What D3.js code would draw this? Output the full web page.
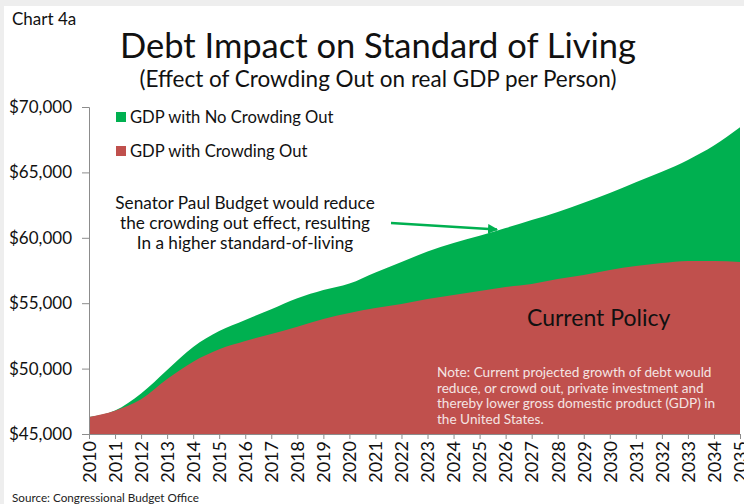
<!DOCTYPE html>
<html>
<head>
<meta charset="utf-8">
<script src="https://cdn.jsdelivr.net/npm/d3@7"></script>
<style>
  html, body { margin: 0; padding: 0; background: #eeeeee; }
  svg { display: block; font-family: Lato, "Open Sans", sans-serif; }
</style>
</head>
<body>
<svg id="chart" width="744" height="504"></svg>
<script>
// data (real GDP per person, $)
var years = d3.range(2010, 2036);
var noCrowding = [46300, 46800, 48100, 49900, 51650, 52870, 53720, 54530, 55370, 56000,
                  56500, 57350, 58150, 58950, 59600, 60150, 60750, 61360, 61980, 62680,
                  63430, 64250, 65050, 65950, 67050, 68450];
var withCrowding = [46300, 46780, 47650, 49200, 50530, 51480, 52110, 52650, 53200, 53790,
                    54250, 54630, 54940, 55320, 55630, 55930, 56240, 56470, 56850, 57160,
                    57540, 57840, 58070, 58230, 58230, 58150];
var yTicks = [45000, 50000, 55000, 60000, 65000, 70000];
var seriesNames = ['GDP with No Crowding Out', 'GDP with Crowding Out'];
var colors = ['#00b050', '#c0504d'];
var calloutLines = ['Senator Paul Budget would reduce', 'the crowding out effect, resulting', 'In a higher standard-of-living'];
var noteLines = ['Note:  Current projected growth of debt would', 'reduce, or crowd out, private investment and',
                 'thereby lower gross domestic product (GDP) in', 'the United States.'];

var svg = d3.select('#chart');

// white panel
svg.append('rect').attr('x', 4).attr('y', 6).attr('width', 740).attr('height', 498).attr('fill', '#fff');

var x = d3.scaleLinear().domain([2010, 2035]).range([89, 740]);
var y = d3.scaleLinear().domain([45000, 70000]).range([434, 107]);

var rows = years.map(function (yr, i) {
    return {year: yr, hi: noCrowding[i], lo: withCrowding[i]};
});

var areaHi = d3.area().curve(d3.curveMonotoneX)
    .x(function (d) { return x(d.year); })
    .y0(y(45000))
    .y1(function (d) { return y(d.hi); });
var areaLo = d3.area().curve(d3.curveMonotoneX)
    .x(function (d) { return x(d.year); })
    .y0(y(45000))
    .y1(function (d) { return y(d.lo); });

svg.append('path').datum(rows).attr('d', areaHi).attr('fill', colors[0]);
svg.append('path').datum(rows).attr('d', areaLo).attr('fill', colors[1]);

// axes
var yAxis = d3.axisLeft(y).tickValues(yTicks).tickSize(7).tickPadding(10)
    .tickFormat(function (d) { return '$' + d3.format(',')(d); });
var gy = svg.append('g').attr('transform', 'translate(89,0)').call(yAxis);
gy.select('.domain').attr('stroke', '#8c8c8c');
gy.selectAll('.tick line').attr('stroke', '#8c8c8c');
gy.selectAll('.tick text').attr('font-size', 17).attr('fill', '#111').attr('font-family', 'Lato, sans-serif');

var xAxis = d3.axisBottom(x).tickValues(years).tickSize(5).tickSizeOuter(0).tickFormat(d3.format('d'));
var gx = svg.append('g').attr('transform', 'translate(0,434)').call(xAxis);
gx.select('.domain').attr('stroke', '#8c8c8c');
gx.selectAll('.tick line').attr('stroke', '#8c8c8c');
gx.selectAll('.tick text')
    .attr('font-size', 18).attr('fill', '#111').attr('font-family', 'Lato, sans-serif')
    .attr('text-anchor', 'end').attr('transform', 'rotate(-90)')
    .attr('x', -7).attr('y', 0).attr('dy', '0.35em');

// titles
svg.append('text').attr('x', 12).attr('y', 25).attr('font-size', 17).attr('fill', '#111').text('Chart 4a');
svg.append('text').attr('x', 378).attr('y', 58).attr('text-anchor', 'middle')
    .attr('font-size', 34.5).attr('fill', '#111').text('Debt Impact on Standard of Living');
svg.append('text').attr('x', 378).attr('y', 87).attr('text-anchor', 'middle')
    .attr('font-size', 22.5).attr('fill', '#111').text('(Effect of Crowding Out on real GDP per Person)');

// legend
var leg = svg.append('g').selectAll('g').data(seriesNames).enter().append('g')
    .attr('transform', function (d, i) { return 'translate(116,' + (112 + i * 34) + ')'; });
leg.append('rect').attr('width', 10).attr('height', 10).attr('fill', function (d, i) { return colors[i]; });
leg.append('text').attr('x', 14).attr('y', 10.5).attr('font-size', 16.6).attr('fill', '#111').text(function (d) { return d; });

// callout
svg.append('g').selectAll('text').data(calloutLines).enter().append('text')
    .attr('x', 245).attr('y', function (d, i) { return 209 + i * 20; })
    .attr('text-anchor', 'middle').attr('font-size', 17.2).attr('fill', '#111')
    .text(function (d) { return d; });

svg.append('defs').append('marker').attr('id', 'arr').attr('viewBox', '0 0 10 10')
    .attr('refX', 9).attr('refY', 5).attr('markerWidth', 4).attr('markerHeight', 4).attr('orient', 'auto')
    .append('path').attr('d', 'M0,0L10,5L0,10z').attr('fill', colors[0]);
svg.append('line').attr('x1', 391).attr('y1', 223).attr('x2', 497).attr('y2', 229.5)
    .attr('stroke', colors[0]).attr('stroke-width', 2.5).attr('marker-end', 'url(#arr)');

// labels inside the red area
svg.append('text').attr('x', 527).attr('y', 326).attr('font-size', 23).attr('fill', '#111').text('Current Policy');
svg.append('g').selectAll('text').data(noteLines).enter().append('text')
    .attr('x', 437).attr('y', function (d, i) { return 377 + i * 15.7; })
    .attr('font-size', 13.6).attr('fill', '#f4e4e3')
    .text(function (d) { return d; });

svg.append('text').attr('x', 12).attr('y', 502).attr('font-size', 11.7).attr('fill', '#222')
    .text('Source:  Congressional Budget Office');
</script>
</body>
</html>
